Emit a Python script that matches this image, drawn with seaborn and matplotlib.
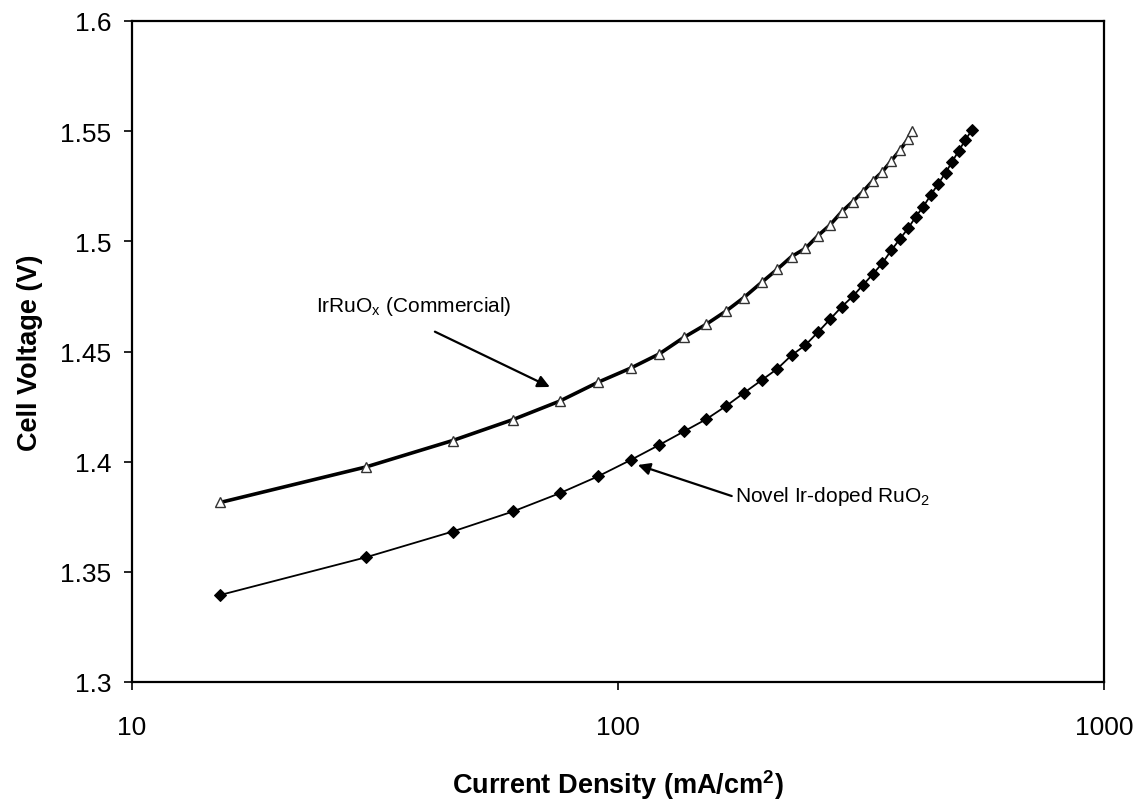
import matplotlib
matplotlib.use("Agg")
import matplotlib.pyplot as plt
import seaborn as sns
import pandas as pd

# --- data ---
novel_current = [15.2, 30.3, 45.7, 60.8, 75.9, 91.1, 106.3, 121.6, 136.6, 152, 167, 181.6,
                 197.8, 212.6, 227.6, 243, 258, 273, 288.6, 304, 319, 334.5, 349.6, 365,
                 380, 395.6, 410, 425, 440, 456, 472, 487, 502, 518, 534]
novel_voltage = [1.3395, 1.3566, 1.3683, 1.3774, 1.3857, 1.3934, 1.4008, 1.4076, 1.4137,
                 1.4193, 1.4253, 1.4312, 1.4371, 1.4421, 1.4483, 1.4529, 1.4588, 1.4646,
                 1.4703, 1.4750, 1.4801, 1.4851, 1.4900, 1.4959, 1.5010, 1.5060, 1.5112,
                 1.5158, 1.5210, 1.5261, 1.5311, 1.5361, 1.5410, 1.5458, 1.5504]

comm_current = [15.2, 30.3, 45.7, 60.8, 75.9, 91.1, 106.3, 121.6, 136.6, 152, 167, 181.6,
                197.8, 212.6, 227.6, 243, 258, 273, 288.6, 304, 319, 334.5, 349.6, 365,
                380, 395.6, 402]
comm_voltage = [1.3815, 1.3976, 1.4096, 1.4191, 1.4275, 1.4361, 1.4425, 1.4489, 1.4564,
                1.4624, 1.4684, 1.4745, 1.4815, 1.4873, 1.4931, 1.4968, 1.5026, 1.5074,
                1.5134, 1.5180, 1.5225, 1.5275, 1.5315, 1.5365, 1.5413, 1.5466, 1.5500]

y_ticks = [1.3, 1.35, 1.4, 1.45, 1.5, 1.55, 1.6]
y_tick_labels = ["1.3", "1.35", "1.4", "1.45", "1.5", "1.55", "1.6"]
x_ticks = [10, 100, 1000]
x_tick_labels = ["10", "100", "1000"]

sns.set_theme(style="white")
plt.rcParams["font.family"] = ["Liberation Sans", "DejaVu Sans"]

fig = plt.figure(figsize=(11.44, 8.12), dpi=100)
ax = fig.add_axes([132/1144, 1-683/812, (1104-132)/1144, (683-22)/812])

df_c = pd.DataFrame({"x": comm_current, "y": comm_voltage})
df_n = pd.DataFrame({"x": novel_current, "y": novel_voltage})

sns.lineplot(data=df_c, x="x", y="y", ax=ax, color="black", lw=2.6, marker="^",
             markersize=7, markerfacecolor="white", markeredgecolor="#333333",
             markeredgewidth=1.0, sort=False)
sns.lineplot(data=df_n, x="x", y="y", ax=ax, color="black", lw=1.3, marker="D",
             markersize=6.5, markerfacecolor="black", markeredgecolor="black", sort=False)

ax.set_xscale("log")
ax.set_xlim(10, 1000)
ax.set_ylim(1.3, 1.6)
ax.set_xticks(x_ticks)
ax.set_xticklabels(x_tick_labels)
ax.set_yticks(y_ticks)
ax.set_yticklabels(y_tick_labels)
ax.minorticks_off()
ax.tick_params(axis="both", which="major", labelsize=19, direction="out",
               length=6, width=1.2, color="black", labelcolor="black", left=True, bottom=True)
ax.tick_params(axis="x", pad=18)
ax.tick_params(axis="y", pad=9)
for s in ax.spines.values():
    s.set_color("black")
    s.set_linewidth(1.6)

ax.set_xlabel("Current Density (mA/cm$^\\mathregular{2}$)", fontsize=19.5, fontweight="bold",
              labelpad=20, color="black")
ax.set_ylabel("Cell Voltage (V)", fontsize=19.5, fontweight="bold", labelpad=12, color="black")
ax.grid(False)

arrow_kw = dict(arrowstyle="-|>", color="black", lw=1.6, mutation_scale=18,
                shrinkA=0, shrinkB=0)

ax.text(38.0, 1.4707, "IrRuO$_\\mathregular{x}$ (Commercial)", fontsize=15,
        ha="center", va="center", color="black")
ax.annotate("", xy=(72.4, 1.4339), xytext=(42.0, 1.4590), arrowprops=arrow_kw)

ax.text(276.7, 1.3846, "Novel Ir-doped RuO$_\\mathregular{2}$", fontsize=15,
        ha="center", va="center", color="black")
ax.annotate("", xy=(109.9, 1.3985), xytext=(171.4, 1.3844), arrowprops=arrow_kw)

fig.savefig("out.png", dpi=100, facecolor="white")
